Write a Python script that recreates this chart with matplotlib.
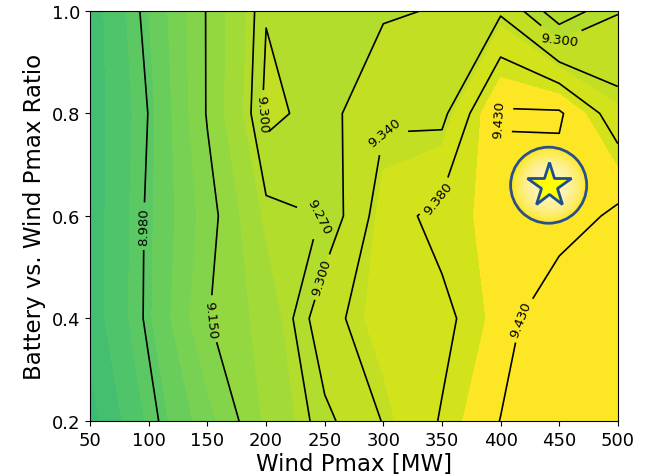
import numpy as np
import matplotlib.pyplot as plt

# grid of runs
wind_pmax = [50, 100, 150, 200, 250, 300, 350, 400, 450, 500]
battery_ratio = [0.2, 0.4, 0.6, 0.8, 1.0]

# objective for each battery ratio row (left to right over wind_pmax)
obj_r02 = [8.83, 8.96, 9.08, 9.21, 9.29, 9.342, 9.383, 9.431, 9.46, 9.47]
obj_r04 = [8.87, 8.992, 9.147, 9.22, 9.329, 9.36, 9.37, 9.41, 9.469, 9.47]
obj_r06 = [8.87, 8.99, 9.125, 9.26, 9.271, 9.362, 9.393, 9.406, 9.405, 9.44]
obj_r08 = [8.87, 8.982, 9.155, 9.31, 9.285, 9.335, 9.33, 9.435, 9.436, 9.355]
obj_r10 = [8.87, 9.00, 9.155, 9.298, 9.285, 9.295, 9.303, 9.335, 9.245, 9.298]

line_levels = [8.98, 9.15, 9.27, 9.30, 9.34, 9.38, 9.43]
fill_levels = [8.80, 8.85, 8.90, 8.95, 9.00, 9.05, 9.10, 9.15, 9.20,
               9.25, 9.30, 9.35, 9.40, 9.50]

# where the contour labels go
label_spots = [(95, 0.58), (154, 0.40), (199, 0.80), (252, 0.60),
               (249, 0.48), (300, 0.80), (451, 0.94), (399, 0.79),
               (348, 0.63), (414, 0.40)]

best_pt = (441, 0.66)

X, Y = np.meshgrid(wind_pmax, battery_ratio)
Z = np.array([obj_r02, obj_r04, obj_r06, obj_r08, obj_r10])

# band colours: upper part of viridis, top band full yellow
cmap = plt.get_cmap('viridis')
band_colors = []
for lo, hi in zip(fill_levels[:-2], fill_levels[1:-1]):
    mid = 0.5 * (lo + hi)
    band_colors.append(cmap(0.68 + (mid - 8.825) * 0.4545))
band_colors.append(cmap(1.0))

fig = plt.figure(figsize=(6.54, 4.77), dpi=100)
ax = fig.add_axes([0.138, 0.1153, 0.8067, 0.8597])

ax.contourf(X, Y, Z, levels=fill_levels, colors=band_colors)
cs = ax.contour(X, Y, Z, levels=line_levels, colors='k', linewidths=1.2)
ax.clabel(cs, fmt='%.3f', fontsize=9.5, inline=True, manual=label_spots)

# highlight the best design
for k in range(14):
    ax.scatter(*best_pt, s=2700 * (1 - k / 14.0) ** 1.3, color='white',
               alpha=0.09, linewidths=0, zorder=5)
ax.scatter(*best_pt, s=3000, facecolors='none', edgecolors='#2b4f8e',
           linewidths=2, zorder=6)
ax.plot(*best_pt, marker='*', ms=33, mfc='#ffff00', mec='#1f4e8c',
        mew=2, zorder=7)

ax.set_xlim(50, 500)
ax.set_ylim(0.2, 1.0)
ax.set_xticks(wind_pmax)
ax.set_yticks([0.2, 0.4, 0.6, 0.8, 1.0])
ax.tick_params(labelsize=13)
ax.set_xlabel('Wind Pmax [MW]', fontsize=16.5, labelpad=2)
ax.set_ylabel('Battery vs. Wind Pmax Ratio', fontsize=16.5)

fig.savefig('out.png', dpi=100)
